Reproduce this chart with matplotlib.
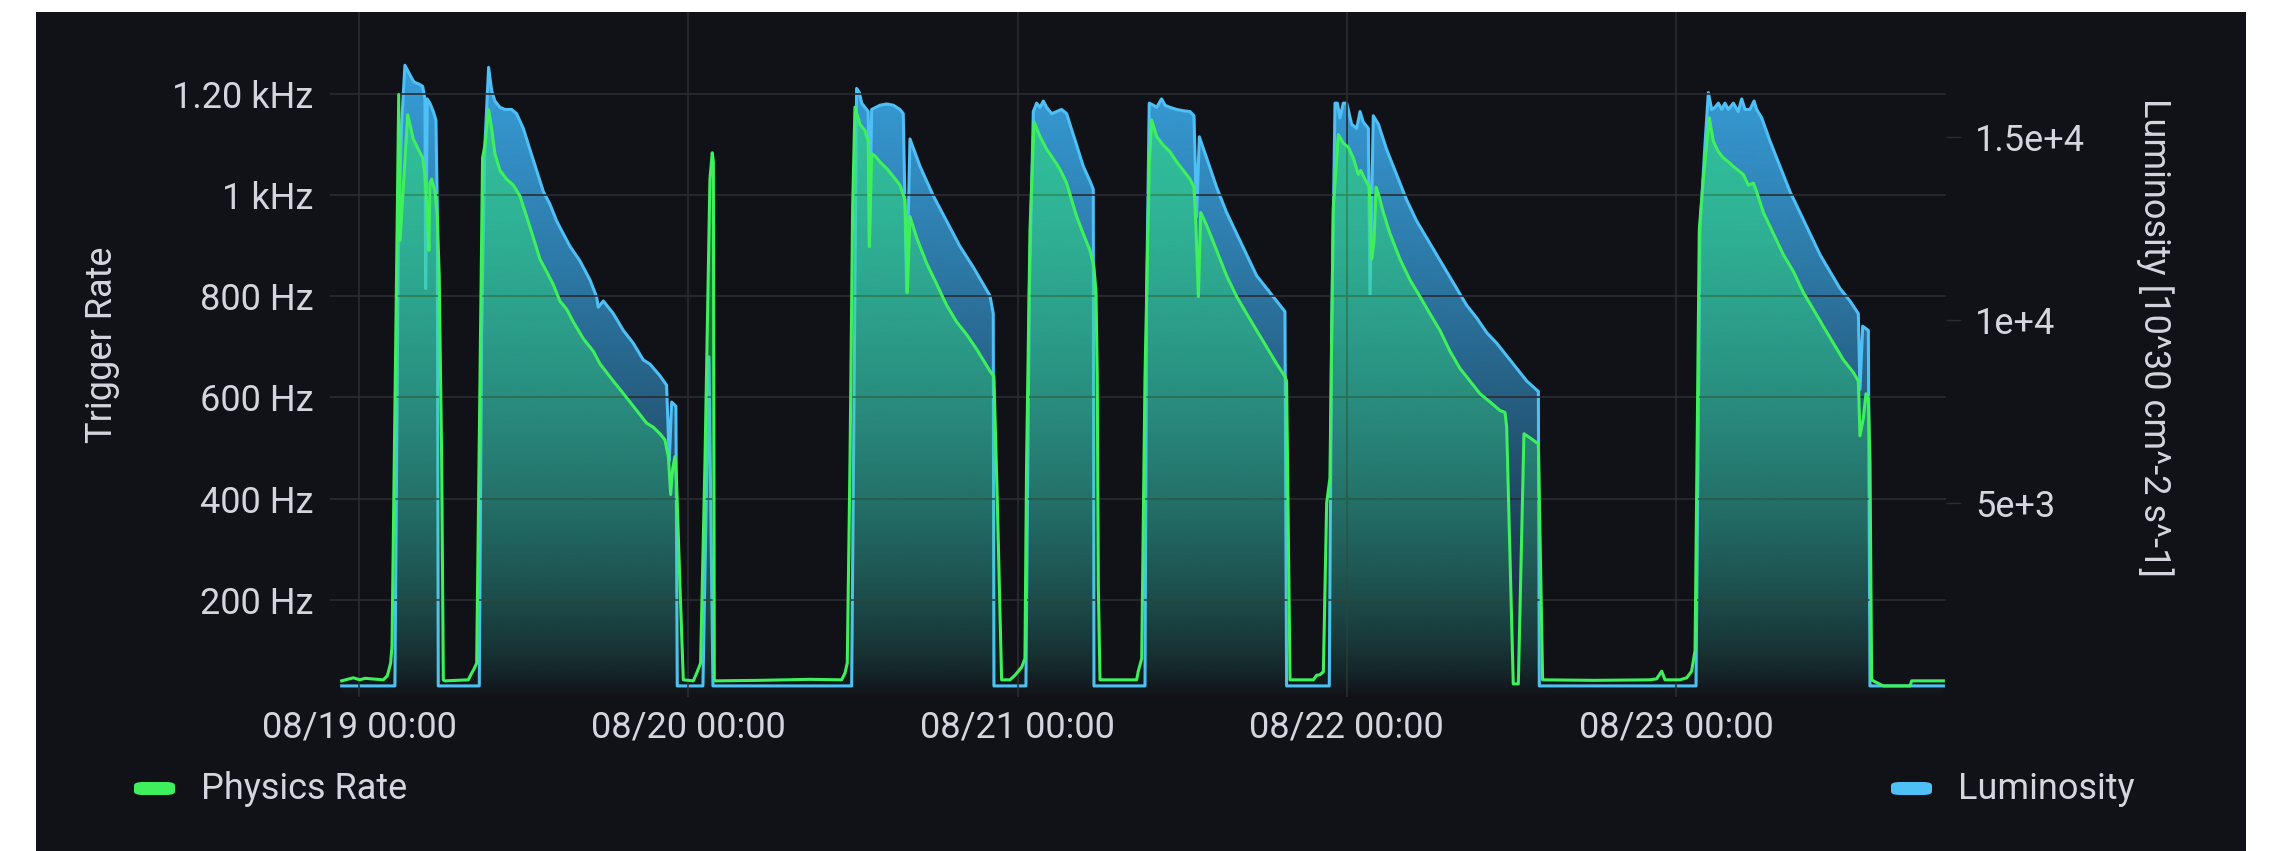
import numpy as np
import pandas as pd
import matplotlib
matplotlib.use('Agg')
import matplotlib.pyplot as plt
import matplotlib.dates as mdates
from matplotlib.patches import Rectangle, FancyBboxPatch
from matplotlib.colors import to_rgb

plt.rcParams['font.family'] = ['Roboto', 'DejaVu Sans']

# start of the time window, values below are hours after this point
start = pd.Timestamp('2024-08-19 00:00')

# Physics Rate [Hz]
rate_hours = [
    -1.26, -0.41, 0.07, 0.44, 1.77, 2.07, 2.31, 2.41, 2.90, 3.00, 3.55, 3.96, 4.32, 4.64, 4.81, 4.98,
    5.10, 5.17, 5.30, 5.54, 5.71, 5.85, 6.03, 6.15, 6.27, 7.97, 8.21, 8.38, 8.58,
    9.01, 9.18, 9.45, 9.67, 9.91, 10.28, 10.76, 11.25, 11.73, 12.22, 12.71, 13.19, 13.68, 14.16,
    14.65, 15.14, 15.62, 16.35, 17.08, 17.57, 18.05, 18.54, 19.02, 19.75, 20.48, 20.97, 21.45,
    21.94, 22.30, 22.55, 22.72, 22.86, 23.03, 23.15, 23.40, 23.64, 24.37, 24.61, 24.90,
    25.22, 25.58, 25.75, 25.83, 25.90, 25.95, 29.23, 32.87, 35.18, 35.42, 35.59, 35.79, 35.98,
    36.15, 36.52, 36.88, 37.12, 37.20, 37.37, 37.61, 37.97, 38.46, 38.95, 39.43, 39.80, 39.97,
    40.16, 40.65, 41.37, 42.10, 42.83, 43.56, 44.29, 45.02, 45.99, 46.28, 46.53, 46.84,
    47.45, 47.81, 48.30, 48.54, 48.66, 48.91, 49.20, 49.64, 50.12, 50.85, 51.21, 51.58, 51.94,
    52.31, 52.79, 53.28, 53.57, 53.72, 53.81, 53.89, 54.01, 56.68, 56.80, 57.05, 57.29, 57.60,
    57.77, 58.14, 58.62, 59.11, 59.60, 60.08, 60.57, 60.86, 61.01, 61.18, 61.35, 61.78, 62.51,
    63.24, 63.97, 64.70, 65.43, 66.16, 66.89, 67.49, 67.61, 67.86, 69.56, 69.80, 70.04, 70.29,
    70.53, 70.77, 71.01, 71.38, 71.74, 72.11, 72.47, 72.84, 73.01, 73.32, 73.64, 73.81, 73.98,
    74.13, 74.30, 74.66, 75.15, 75.87, 76.60, 77.33, 78.06, 78.79, 79.52, 80.25, 80.98, 81.71,
    82.43, 83.16, 83.53, 83.65, 84.13, 84.50, 84.91, 85.35, 85.96, 86.27, 90.00, 94.10, 94.58,
    94.95, 95.19, 96.28, 96.77, 97.13, 97.38, 97.55, 97.69, 97.98, 98.42, 98.71, 99.08, 99.44,
    99.81, 100.17, 100.53, 100.90, 101.26, 101.63, 101.87, 102.36, 103.09, 103.81, 104.54,
    105.27, 106.00, 106.73, 107.46, 108.19, 108.92, 109.28, 109.40, 109.64, 109.84, 110.01,
    110.13, 110.25, 110.37, 111.10, 113.05, 113.17, 115.48,
]
rate_hz = [
    40, 46, 42, 45, 42, 50, 75, 109, 1198, 910, 1158, 1110, 1090, 1073, 1040, 957,
    890, 1023, 1031, 1006, 957, 840, 474, 42, 40, 42, 55, 63, 75,
    1073, 1098, 1168, 1131, 1081, 1048, 1031, 1019, 998, 957, 915, 873, 848, 823,
    790, 774, 749, 716, 691, 666, 649, 632, 616, 591, 566, 549, 541,
    528, 516, 483, 408, 458, 483, 433, 225, 42, 40, 55, 75,
    474, 1031, 1083, 1065, 42, 40, 41, 43, 42, 55, 75, 474, 973,
    1173, 1139, 1127, 1106, 898, 1081, 1077, 1065, 1052, 1036, 1019, 990, 807,
    957, 915, 865, 824, 782, 749, 724, 695, 652, 641, 391, 42,
    42, 51, 67, 84, 474, 932, 1144, 1115, 1090, 1061, 1044, 1023, 990,
    957, 923, 890, 857, 807, 641, 225, 42, 42, 59, 84, 641, 1056,
    1148, 1115, 1098, 1085, 1065, 1048, 1031, 1015, 932, 799, 965, 940, 890,
    840, 799, 765, 732, 699, 666, 641, 632, 42, 42, 51, 52, 58,
    391, 441, 973, 1119, 1102, 1094, 1073, 1040, 1048, 1031, 1015, 873, 907,
    1015, 1002, 965, 923, 873, 832, 799, 765, 732, 691, 657, 632, 607,
    591, 574, 570, 541, 34, 34, 528, 520, 508, 42, 41, 42, 44,
    59, 42, 42, 46, 59, 100, 558, 932, 1031, 1152, 1106, 1085, 1073,
    1065, 1056, 1048, 1040, 1019, 1023, 1006, 965, 923, 882, 849,
    807, 774, 740, 707, 674, 649, 632, 524, 558, 607, 599,
    474, 42, 40, 30, 30, 40, 40,
]

# Luminosity [10^30 cm^-2 s^-1]
lum_hours = [
    -1.26, 2.62, 2.87, 3.11, 3.35, 3.67, 4.01, 4.40, 4.64, 4.81, 4.86, 4.98, 5.17, 5.42, 5.61,
    5.71, 5.78, 8.77, 8.94, 9.18, 9.45, 9.67, 9.91, 10.28, 10.64, 11.13, 11.49, 11.98, 12.46,
    12.95, 13.44, 13.92, 14.41, 14.89, 15.38, 16.11, 16.84, 17.32, 17.44, 17.81, 18.54, 19.27,
    19.99, 20.72, 21.21, 21.94, 22.42, 22.62, 22.79, 23.10, 23.20, 25.07, 25.51, 25.80, 35.91,
    36.27, 36.47, 36.64, 36.88, 37.12, 37.20, 37.37, 37.97, 38.46, 38.95, 39.43, 39.67, 39.92,
    40.16, 40.89, 41.86, 42.83, 43.80, 44.78, 45.99, 46.23, 46.28, 48.61, 48.86, 49.15, 49.39,
    49.64, 49.88, 50.12, 50.49, 50.85, 51.21, 51.58, 51.82, 52.31, 52.79, 53.28, 53.52, 53.57,
    57.29, 57.41, 57.60, 57.90, 58.14, 58.50, 58.75, 59.11, 59.60, 60.08, 60.57, 60.86, 61.05,
    61.25, 61.78, 62.51, 63.24, 63.97, 64.70, 65.43, 66.16, 66.89, 67.49, 67.61, 70.72, 70.89,
    71.14, 71.31, 71.50, 71.74, 71.99, 72.35, 72.72, 72.96, 73.20, 73.57, 73.69, 73.93, 74.30,
    74.90, 75.63, 76.36, 77.09, 77.82, 78.55, 79.28, 80.00, 80.73, 81.46, 82.19, 82.92, 83.65,
    84.38, 85.11, 85.96, 86.03, 97.45, 97.74, 98.10, 98.35, 98.59, 98.83, 99.08, 99.32, 99.56,
    99.81, 100.17, 100.53, 100.78, 101.02, 101.38, 101.68, 101.87, 102.24, 102.84, 103.57,
    104.30, 105.03, 105.76, 106.49, 107.22, 107.94, 108.67, 109.28, 109.40, 109.60, 110.01,
    110.13, 115.48,
]
lum_values = [
    0, 0, 12137, 15360, 16971, 16741, 16511, 16453, 16396, 16051, 10871, 16051, 15936, 15705, 15475,
    13058, 0, 0, 9605, 14785, 16914, 16281, 15993, 15820, 15763, 15763, 15648, 15245, 14669,
    14094, 13518, 13173, 12713, 12367, 12022, 11619, 11101, 10641, 10353, 10526, 10181, 9720,
    9375, 8915, 8800, 8480, 8224, 6152, 7763, 7648, 0, 0, 9000, 0, 0,
    16338, 16223, 15936, 15820, 15705, 12022, 15763, 15878, 15913, 15878, 15763, 15648, 10756,
    14957, 14209, 13403, 12713, 12022, 11447, 10670, 10181, 0, 0, 10756, 15705, 15936,
    15820, 15993, 15820, 15648, 15705, 15763, 15648, 15360, 14785, 14209, 13806, 13576, 0,
    0, 10756, 15936, 15878, 15820, 16051, 15878, 15820, 15763, 15728, 15705, 15590, 12828,
    15015, 14439, 13634, 12943, 12367, 11792, 11216, 10871, 10526, 10238, 0, 0, 9605,
    15936, 15936, 15533, 15936, 15936, 15360, 15245, 15705, 15418, 15245, 10698, 15590, 15360,
    14669, 13979, 13288, 12713, 12252, 11792, 11331, 10871, 10411, 10065, 9663, 9375, 9029,
    8684, 8339, 8051, 0, 0, 12483, 14785, 16223, 15763, 15820, 15936, 15763, 15936,
    15763, 15936, 15705, 16051, 15763, 15763, 15993, 15763, 15533, 14900, 14209,
    13518, 12943, 12367, 11792, 11331, 10871, 10526, 10181, 8109, 9836, 9720,
    0, 0,
]

rate_ticks = [200, 400, 600, 800, 1000, 1200]
rate_tick_labels = ['200 Hz', '400 Hz', '600 Hz', '800 Hz', '1 kHz', '1.20 kHz']
lum_ticks = [5000, 10000, 15000]
lum_tick_labels = ['5e+3', '1e+4', '1.5e+4']

GREEN = '#3ef05c'
BLUE = '#4fc0f5'
BG = '#111217'
TEXT = '#d4d5de'
GRID = '#2a2c32'
FS = 26

W, H = 2280, 851


def to_num(hours):
    return mdates.date2num(start + pd.to_timedelta(np.asarray(hours, dtype=float), unit='h'))


def gradient_fill(ax, x, y, color, alpha_top, y_bottom, y_top, zorder, gamma=0.7):
    poly = ax.fill_between(x, y, y_bottom, facecolor='none', edgecolor='none')
    grad = np.zeros((256, 1, 4))
    grad[:, 0, :3] = to_rgb(color)
    grad[:, 0, 3] = alpha_top * np.linspace(0, 1, 256) ** gamma
    img = ax.imshow(grad, extent=[x.min(), x.max(), y_bottom, y_top], origin='lower',
                    aspect='auto', interpolation='bilinear', zorder=zorder)
    img.set_clip_path(poly.get_paths()[0], transform=ax.transData)


fig = plt.figure(figsize=(W / 100, H / 100), dpi=100, facecolor='white')

# dark panel
fig.patches.append(Rectangle((36 / W, 0), (2246 - 36) / W, (851 - 12) / H,
                             transform=fig.transFigure, facecolor=BG, edgecolor='none', zorder=-5))

left, right, top, bottom = 330, 1946, 12, 697
ax = fig.add_axes([left / W, 1 - bottom / H, (right - left) / W, (bottom - top) / H])
ax2 = ax.twinx()
ax.set_zorder(ax2.get_zorder() + 1)
ax.patch.set_visible(False)
ax2.patch.set_visible(False)

x_rate = to_num(rate_hours)
x_lum = to_num(lum_hours)
rate = np.array(rate_hz, dtype=float)
lum = np.array(lum_values, dtype=float)

rate_lim = (8.1, 1361)
lum_lim = (-303, 18428)
x_lim = to_num([-2.11, 115.67])

# luminosity on the back axis
gradient_fill(ax2, x_lum, lum, '#3aa8e8', 1.0, lum_lim[0], lum_lim[1], 1, gamma=0.8)
ax2.plot(x_lum, lum, color=BLUE, lw=2.2, solid_joinstyle='round', zorder=3)

# physics rate on the front axis
gradient_fill(ax, x_rate, rate, '#2fe07a', 0.68, rate_lim[0], rate_lim[1], 1, gamma=0.75)
ax.plot(x_rate, rate, color=GREEN, lw=2.2, solid_joinstyle='round', zorder=3)

ax.set_xlim(*x_lim)
ax.set_ylim(*rate_lim)
ax2.set_ylim(*lum_lim)

for a in (ax, ax2):
    for s in a.spines.values():
        s.set_visible(False)

ax.xaxis.set_major_locator(mdates.DayLocator())
ax.xaxis.set_major_formatter(mdates.DateFormatter('%m/%d %H:%M'))
ax.set_yticks(rate_ticks)
ax.set_yticklabels(rate_tick_labels)
ax2.set_yticks(lum_ticks)
ax2.set_yticklabels(lum_tick_labels)

ax.tick_params(axis='y', length=0, pad=12, labelsize=FS, labelcolor=TEXT)
ax.tick_params(axis='x', length=0, pad=9, labelsize=FS, labelcolor=TEXT)
ax2.tick_params(axis='y', length=11, width=1, color=GRID, pad=10, labelsize=FS, labelcolor=TEXT)

ax.grid(True, color=GRID, lw=1.2)
ax.set_axisbelow(True)

fig.text(102 / W, 1 - 345 / H, 'Trigger Rate', rotation=90, ha='center', va='center',
         fontsize=FS, color=TEXT)
fig.text(2155 / W, 1 - 338 / H, 'Luminosity [10^30 cm^-2 s^-1]', rotation=270, ha='center',
         va='center', fontsize=FS, color=TEXT)

# legend
for x0, x1, color, label in [(134, 175, GREEN, 'Physics Rate'), (1891, 1932, BLUE, 'Luminosity')]:
    fig.patches.append(FancyBboxPatch((x0 / W, 1 - 795 / H), (x1 - x0) / W, 13 / H,
                                      boxstyle='round,pad=0,rounding_size=0.004',
                                      transform=fig.transFigure, facecolor=color,
                                      edgecolor='none', zorder=2))
    fig.text((x1 + 26) / W, 1 - 789 / H, label, ha='left', va='center', fontsize=FS, color=TEXT)

fig.savefig('out.png', dpi=100, facecolor='white')
